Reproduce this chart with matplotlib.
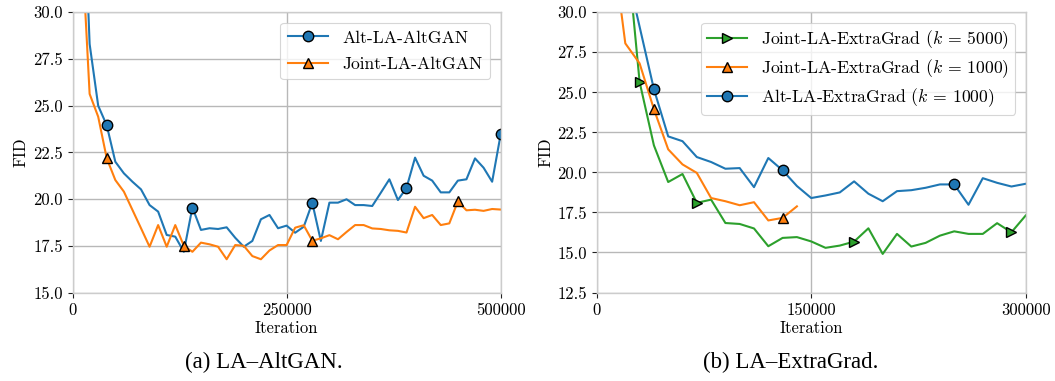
import matplotlib
matplotlib.use("Agg")
import matplotlib.pyplot as plt
import numpy as np

# ---------------- data ----------------
# (a) LA-AltGAN
a_iters = list(range(10000, 500001, 10000))
a_alt = [40.0, 28.3, 25.0, 23.95, 22.0, 21.38, 20.93, 20.52, 19.68, 19.33,
         18.08, 17.99, 17.18, 19.55, 18.35, 18.44, 18.4, 18.49, 17.93, 17.45,
         17.76, 18.92, 19.15, 18.44, 18.58, 18.2, 18.52, 19.8, 17.76, 19.81,
         19.81, 19.99, 19.68, 19.68, 19.63, 20.34, 21.06, 19.95, 20.6, 22.22,
         21.25, 20.99, 20.36, 20.36, 20.99, 21.06, 22.18, 21.68, 20.93, 23.47]
a_joint = [34.4, 25.63, 24.41, 22.18, 21.02, 20.4, 19.42, 18.44, 17.45, 18.61,
           17.45, 18.61, 17.5, 17.18, 17.67, 17.58, 17.45, 16.78, 17.54, 17.5,
           16.95, 16.78, 17.25, 17.54, 17.54, 18.47, 18.6, 17.77, 17.9, 18.07,
           17.85, 18.24, 18.61, 18.61, 18.43, 18.4, 18.33, 18.3, 18.21, 19.59,
           18.98, 19.15, 18.61, 18.7, 19.88, 19.4, 19.43, 19.37, 19.47, 19.44]
a_alt_marks = [3, 13, 27, 38, 49]
a_joint_marks = [3, 12, 27, 44]

# (b) LA-ExtraGrad
b_iters_k5000 = list(range(20000, 300001, 10000))
b_joint5000 = [35.1, 25.65, 21.69, 19.4, 19.9, 18.1, 18.3, 16.84, 16.78, 16.5,
               15.39, 15.91, 15.96, 15.69, 15.29, 15.43, 15.68, 16.51, 14.91, 16.16,
               15.37, 15.6, 16.05, 16.32, 16.16, 16.16, 16.83, 16.26, 17.31]
b_joint5000_marks = [1, 5, 16, 27]

b_iters_joint1000 = list(range(10000, 140001, 10000))
b_joint1000 = [35.0, 28.06, 26.81, 23.95, 21.44, 20.5, 19.97, 18.4, 18.2, 17.95,
               18.14, 17.0, 17.16, 17.88]
b_joint1000_marks = [3, 12]

b_iters_alt1000 = list(range(20000, 300001, 10000))
b_alt1000 = [33.0, 29.1, 25.2, 22.25, 21.95, 20.96, 20.65, 20.23, 20.27, 19.08,
             20.9, 20.13, 19.15, 18.4, 18.56, 18.75, 19.44, 18.67, 18.2, 18.83,
             18.89, 19.04, 19.25, 19.25, 17.98, 19.64, 19.35, 19.12, 19.29]
b_alt1000_marks = [2, 11, 23]

a_xticks = [0, 250000, 500000]
a_yticks = [15.0, 17.5, 20.0, 22.5, 25.0, 27.5, 30.0]
b_xticks = [0, 150000, 300000]
b_yticks = [12.5, 15.0, 17.5, 20.0, 22.5, 25.0, 27.5, 30.0]

labels_a = ["Alt-LA-AltGAN", "Joint-LA-AltGAN"]
labels_b = [r"Joint-LA-ExtraGrad ($k$ = 5000)",
            r"Joint-LA-ExtraGrad ($k$ = 1000)",
            r"Alt-LA-ExtraGrad ($k$ = 1000)"]
captions = ["(a) LA\u2013AltGAN.", "(b) LA\u2013ExtraGrad."]

# ---------------- style ----------------
plt.rcParams['font.family'] = ['cmr10', 'DejaVu Serif']
plt.rcParams['mathtext.fontset'] = 'cm'
plt.rcParams['axes.formatter.use_mathtext'] = True
plt.rcParams['axes.unicode_minus'] = False

BLUE = '#1f77b4'
ORANGE = '#ff7f0e'
GREEN = '#2ca02c'
FS = 12
LFS = 12.7

fig = plt.figure(figsize=(10.55, 3.81), dpi=100)
axA = fig.add_axes([72.5 / 1055, 1 - 292.5 / 381, 428.2 / 1055, 280.2 / 381])
axB = fig.add_axes([596.7 / 1055, 1 - 292.5 / 381, 429.0 / 1055, 280.2 / 381])


def style_axes(ax, xticks, yticks, xlim, ylim):
    ax.set_xlim(*xlim)
    ax.set_ylim(*ylim)
    ax.set_xticks(xticks)
    ax.set_xticklabels([str(t) for t in xticks])
    ax.set_yticks(yticks)
    ax.set_yticklabels([f"{t:.1f}" for t in yticks])
    ax.grid(True, color='#b8b8b8', linewidth=1.0)
    ax.set_axisbelow(True)
    for s in ax.spines.values():
        s.set_color('#cccccc')
        s.set_linewidth(1.0)
    ax.tick_params(labelsize=FS, length=3.5, width=0.8, color='#222222')
    ax.set_xlabel("Iteration", fontsize=FS, labelpad=2)
    ax.set_ylabel("FID", fontsize=FS, labelpad=3)


mk = dict(markeredgecolor='black', markeredgewidth=1.0, markersize=7.5, linewidth=1.5)

axA.plot(a_iters, a_alt, color=BLUE, marker='o', markevery=a_alt_marks,
         label=labels_a[0], **mk)
axA.plot(a_iters, a_joint, color=ORANGE, marker='^', markevery=a_joint_marks,
         label=labels_a[1], **mk)
style_axes(axA, a_xticks, a_yticks, (0, 500000), (15.0, 30.0))

axB.plot(b_iters_k5000, b_joint5000, color=GREEN, marker='>', markevery=b_joint5000_marks,
         label=labels_b[0], **mk)
axB.plot(b_iters_joint1000, b_joint1000, color=ORANGE, marker='^', markevery=b_joint1000_marks,
         label=labels_b[1], **mk)
axB.plot(b_iters_alt1000, b_alt1000, color=BLUE, marker='o', markevery=b_alt1000_marks,
         label=labels_b[2], **mk)
style_axes(axB, b_xticks, b_yticks, (0, 300000), (12.5, 30.0))

for ax, lsp, bpad in ((axA, 0.62, 0.42), (axB, 0.36, 0.32)):
    leg = ax.legend(loc='upper right', fontsize=LFS, numpoints=1, frameon=True,
                    fancybox=True, framealpha=0.8, edgecolor='#cccccc',
                    borderpad=bpad, labelspacing=lsp, handlelength=2.3,
                    bbox_to_anchor=(1.0, 1.0), borderaxespad=0.6)
    leg.get_frame().set_linewidth(0.8)

fig.text(264 / 1055, 1 - 362 / 381, captions[0], ha='center', va='center',
         fontsize=16.5, family='Liberation Serif')
fig.text(791 / 1055, 1 - 362 / 381, captions[1], ha='center', va='center',
         fontsize=16.5, family='Liberation Serif')

fig.savefig("out.png", dpi=100)
